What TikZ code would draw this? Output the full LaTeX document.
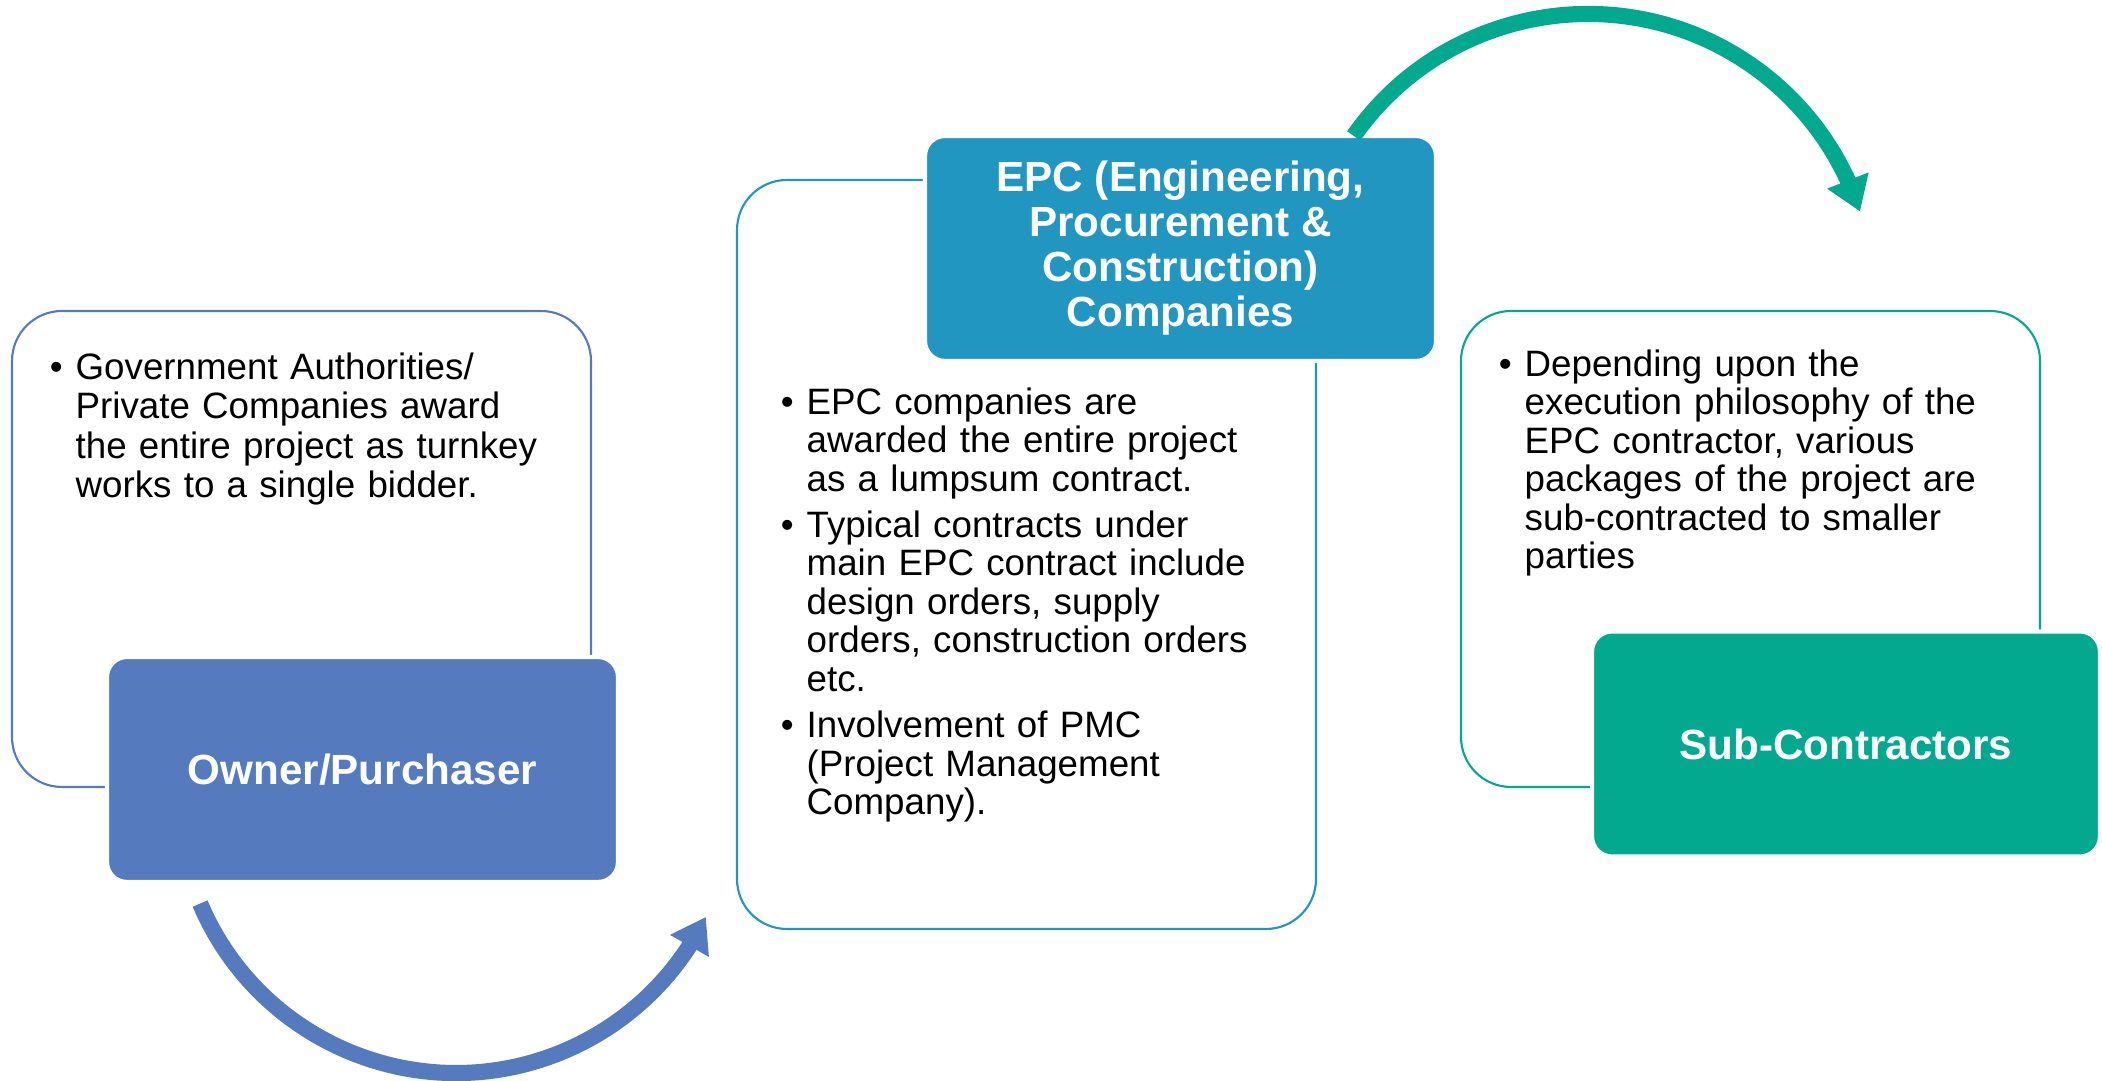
\documentclass[tikz,border=0pt]{standalone}
\usepackage{fontspec}
\setmainfont{Liberation Sans}
\usetikzlibrary{arrows.meta,bending}
\definecolor{ownblue}{RGB}{85,122,190}
\definecolor{epcblue}{RGB}{33,150,192}
\definecolor{subgreen}{RGB}{3,169,143}
\newcommand{\itm}{\par\leavevmode\llap{\textbullet\hspace{0.13cm}}}
\begin{document}
\begin{tikzpicture}
	\tikzset{panel/.style={rectangle, rounded corners=0.5cm, draw=#1, line width=0.6pt, minimum width=5.79cm}};
	\tikzset{headbox/.style={rectangle, rounded corners=0.2cm, fill=#1, draw=white, line width=1.2pt, text=white, font=\fontsize{12}{12.8}\selectfont\bfseries, align=center, minimum width=5.11cm, minimum height=2.25cm}};
	\tikzset{txt/.style={inner sep=0pt, text width=5.2cm, align=left, font=\fontsize{10.45}{#1}\selectfont}};
	\tikzset{flow/.style={draw=#1, line width=4.6pt, -{Triangle[width=12pt,length=9.5pt]}}};
	\useasboundingbox (0,0) rectangle (21.02,10.81);

	\node[panel=ownblue, minimum height=4.76cm] (ownerpanel) at (3.015,5.32) {};
	\node[panel=epcblue, minimum height=7.49cm] (epcpanel) at (10.265,5.265) {};
	\node[panel=subgreen, minimum height=4.76cm] (subpanel) at (17.505,5.32) {};

	\node[txt=11.2pt, anchor=base west] (ownertext) at (0.75,7.41) {\itm Government Authorities/\\ Private Companies award\\ the entire project as turnkey\\ works to a single bidder.};
	\node[txt=10.95pt, anchor=base west] (epctext) at (8.06,7.13) {\setlength{\parskip}{2.2pt}\itm EPC companies are\\ awarded the entire project\\ as a lumpsum contract.\itm Typical contracts under\\ main EPC contract include\\ design orders, supply\\ orders, construction orders\\ etc.\itm Involvement of PMC\\ (Project Management\\ Company).};
	\node[txt=10.95pt, anchor=base west] (subtext) at (15.24,7.43) {\itm Depending upon the\\ execution philosophy of the\\ EPC contractor, various\\ packages of the project are\\ sub-contracted to smaller\\ parties};

	\node[headbox=ownblue] (owner) at (3.625,3.115) {Owner/Purchaser};
	\node[headbox=epcblue] (epc) at (11.805,8.325) {\vspace{0.05cm}EPC (Engineering,\\ Procurement \&\\ Construction)\\ Companies};
	\node[headbox=subgreen, minimum width=5.08cm] (sub) at (18.46,3.37) {Sub-Contractors};

	\coordinate (ownturn) at (4.56,2.86);
	\coordinate (epcturn) at (15.88,7.81);
	\draw[flow=ownblue] ([shift={(203:2.78)}]ownturn) arc[start angle=203, end angle=334, radius=2.78];
	\draw[flow=subgreen] ([shift={(145:2.86)}]epcturn) arc[start angle=145, end angle=18, radius=2.86];
\end{tikzpicture}
\end{document}
